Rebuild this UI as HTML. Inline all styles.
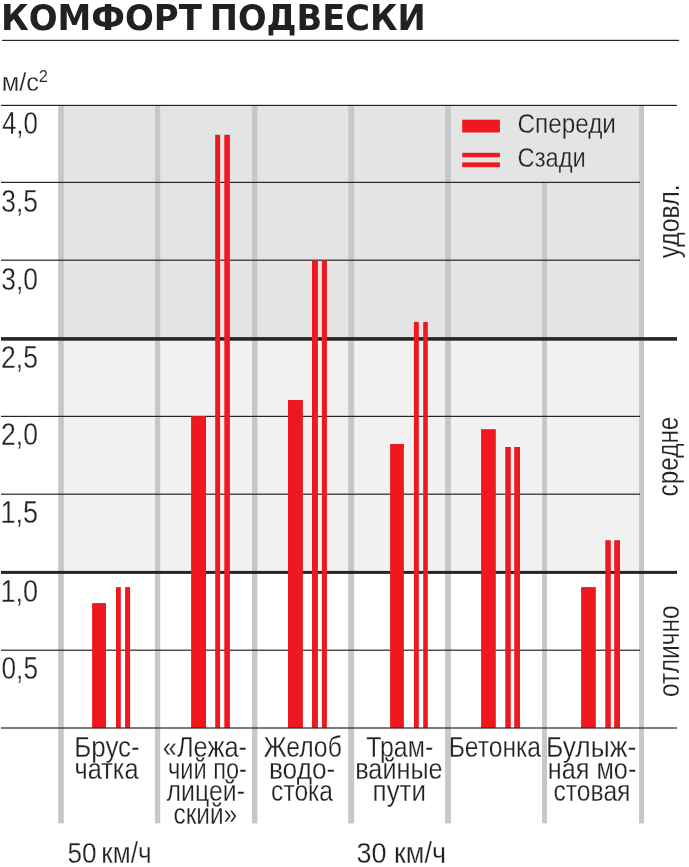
<!DOCTYPE html>
<html lang="ru"><head><meta charset="utf-8"><title>Комфорт подвески</title>
<style>html,body{margin:0;padding:0;background:#fff}svg{display:block}text{font-kerning:normal;white-space:pre}</style></head>
<body>
<svg width="689" height="867" viewBox="0 0 689 867">
<rect width="689" height="867" fill="#fff"/>
<rect x="58" y="105.4" width="586" height="233.5" fill="#e3e4e4"/>
<rect x="58" y="338.9" width="586" height="233.4" fill="#f1f1f1"/>
<rect x="58.2" y="105.4" width="5.60" height="718.00" fill="#c7c7c7"/>
<rect x="155" y="105.4" width="5.20" height="718.00" fill="#c7c7c7"/>
<rect x="252" y="105.4" width="5.40" height="718.00" fill="#c7c7c7"/>
<rect x="348.2" y="105.4" width="6.00" height="718.00" fill="#c7c7c7"/>
<rect x="445.1" y="105.4" width="5.80" height="718.00" fill="#c7c7c7"/>
<rect x="542.1" y="182.4" width="4.90" height="641.00" fill="#c7c7c7"/>
<rect x="639.1" y="105.4" width="4.90" height="718.00" fill="#c7c7c7"/>
<rect x="1" y="181.80" width="639" height="1.2" fill="#272625"/>
<rect x="1" y="259.60" width="639" height="1.2" fill="#272625"/>
<rect x="1" y="415.80" width="639" height="1.2" fill="#272625"/>
<rect x="1" y="493.60" width="639" height="1.2" fill="#272625"/>
<rect x="1" y="649.60" width="639" height="1.2" fill="#272625"/>
<rect x="1" y="337.1" width="676" height="3.6" fill="#272625"/>
<rect x="1" y="570.9" width="676" height="3.0" fill="#272625"/>
<rect x="92.1" y="603.1" width="13.90" height="124.90" fill="#f0181f"/>
<rect x="116.0" y="587.1" width="4.80" height="140.90" fill="#f0181f"/>
<rect x="125.1" y="587.1" width="5.00" height="140.90" fill="#f0181f"/>
<rect x="191.1" y="416.1" width="14.90" height="311.90" fill="#f0181f"/>
<rect x="215.2" y="134.8" width="4.90" height="593.20" fill="#f0181f"/>
<rect x="224.3" y="134.8" width="5.60" height="593.20" fill="#f0181f"/>
<rect x="288.0" y="400.0" width="14.90" height="328.00" fill="#f0181f"/>
<rect x="312.0" y="260.4" width="5.90" height="467.60" fill="#f0181f"/>
<rect x="321.9" y="260.4" width="5.00" height="467.60" fill="#f0181f"/>
<rect x="390.1" y="444.0" width="13.80" height="284.00" fill="#f0181f"/>
<rect x="413.9" y="322.0" width="4.90" height="406.00" fill="#f0181f"/>
<rect x="423.2" y="322.0" width="4.60" height="406.00" fill="#f0181f"/>
<rect x="481.1" y="429.2" width="14.70" height="298.80" fill="#f0181f"/>
<rect x="505.3" y="447.0" width="5.50" height="281.00" fill="#f0181f"/>
<rect x="514.2" y="447.0" width="5.80" height="281.00" fill="#f0181f"/>
<rect x="581.1" y="587.1" width="14.70" height="140.90" fill="#f0181f"/>
<rect x="605.3" y="540.2" width="5.50" height="187.80" fill="#f0181f"/>
<rect x="614.2" y="540.2" width="5.80" height="187.80" fill="#f0181f"/>
<rect x="2" y="39.8" width="677" height="1.2" fill="#272625"/>
<rect x="1" y="104.8" width="676" height="1.2" fill="#272625"/>
<rect x="1" y="727.4" width="676" height="1.2" fill="#272625"/>
<rect x="462.2" y="119.7" width="37.7" height="12.8" fill="#f0181f"/>
<rect x="462.2" y="152.8" width="37.7" height="4.5" fill="#f0181f"/>
<rect x="462.2" y="162.4" width="37.7" height="4.8" fill="#f0181f"/>
<text transform="translate(0.94,29.60) scale(0.9729,1)" font-family="'DejaVu Sans', sans-serif" font-size="34.9" font-weight="bold" fill="#222120">КОМФОРТ</text>
<text transform="translate(209.76,29.60) scale(0.9652,1)" font-family="'DejaVu Sans', sans-serif" font-size="34.9" font-weight="bold" fill="#222120">ПОДВЕСКИ</text>
<text transform="translate(1.78,91.00) scale(0.9611,1)" font-family="'Liberation Sans', sans-serif" font-size="26.5" fill="#222127" stroke="#ffffff" stroke-width="0.25" vector-effect="non-scaling-stroke">м/с</text>
<text transform="translate(38.81,81.90) scale(0.9931,1)" font-family="'Liberation Sans', sans-serif" font-size="16.6" fill="#222127" stroke="#ffffff" stroke-width="0.1" vector-effect="non-scaling-stroke">2</text>
<text transform="translate(1.96,133.80) scale(0.8497,1)" font-family="'Liberation Sans', sans-serif" font-size="30.5" fill="#222127" stroke="#ffffff" stroke-width="0.25" vector-effect="non-scaling-stroke">4,0</text>
<text transform="translate(1.30,212.20) scale(0.8658,1)" font-family="'Liberation Sans', sans-serif" font-size="30.5" fill="#222127" stroke="#ffffff" stroke-width="0.25" vector-effect="non-scaling-stroke">3,5</text>
<text transform="translate(1.30,290.00) scale(0.8658,1)" font-family="'Liberation Sans', sans-serif" font-size="30.5" fill="#222127" stroke="#ffffff" stroke-width="0.25" vector-effect="non-scaling-stroke">3,0</text>
<text transform="translate(1.08,368.20) scale(0.8713,1)" font-family="'Liberation Sans', sans-serif" font-size="30.5" fill="#222127" stroke="#ffffff" stroke-width="0.25" vector-effect="non-scaling-stroke">2,5</text>
<text transform="translate(1.08,445.10) scale(0.8713,1)" font-family="'Liberation Sans', sans-serif" font-size="30.5" fill="#222127" stroke="#ffffff" stroke-width="0.25" vector-effect="non-scaling-stroke">2,0</text>
<text transform="translate(0.38,523.10) scale(0.8883,1)" font-family="'Liberation Sans', sans-serif" font-size="30.5" fill="#222127" stroke="#ffffff" stroke-width="0.25" vector-effect="non-scaling-stroke">1,5</text>
<text transform="translate(0.38,602.00) scale(0.8883,1)" font-family="'Liberation Sans', sans-serif" font-size="30.5" fill="#222127" stroke="#ffffff" stroke-width="0.25" vector-effect="non-scaling-stroke">1,0</text>
<text transform="translate(1.52,679.20) scale(0.8604,1)" font-family="'Liberation Sans', sans-serif" font-size="30.5" fill="#222127" stroke="#ffffff" stroke-width="0.25" vector-effect="non-scaling-stroke">0,5</text>
<text transform="translate(517.52,132.60) scale(0.8519,1)" font-family="'Liberation Sans', sans-serif" font-size="28.5" fill="#222127" stroke="#e3e4e4" stroke-width="0.25" vector-effect="non-scaling-stroke">Спереди</text>
<text transform="translate(517.55,166.80) scale(0.8306,1)" font-family="'Liberation Sans', sans-serif" font-size="28.5" fill="#222127" stroke="#e3e4e4" stroke-width="0.25" vector-effect="non-scaling-stroke">Сзади</text>
<text transform="translate(74.25,756.60) scale(0.9018,1)" font-family="'Liberation Sans', sans-serif" font-size="28.8" fill="#222127" stroke="#ffffff" stroke-width="0.25" vector-effect="non-scaling-stroke">Брус-</text>
<text transform="translate(74.46,778.60) scale(0.8789,1)" font-family="'Liberation Sans', sans-serif" font-size="28.8" fill="#222127" stroke="#ffffff" stroke-width="0.25" vector-effect="non-scaling-stroke">чатка</text>
<text transform="translate(162.80,756.60) scale(0.8830,1)" font-family="'Liberation Sans', sans-serif" font-size="28.8" fill="#222127" stroke="#ffffff" stroke-width="0.25" vector-effect="non-scaling-stroke">«Лежа-</text>
<text transform="translate(167.97,778.60) scale(0.8193,1)" font-family="'Liberation Sans', sans-serif" font-size="28.8" fill="#222127" stroke="#ffffff" stroke-width="0.25" vector-effect="non-scaling-stroke">чий по-</text>
<text transform="translate(166.58,800.80) scale(0.8640,1)" font-family="'Liberation Sans', sans-serif" font-size="28.8" fill="#222127" stroke="#ffffff" stroke-width="0.25" vector-effect="non-scaling-stroke">лицей-</text>
<text transform="translate(173.43,823.60) scale(0.8483,1)" font-family="'Liberation Sans', sans-serif" font-size="28.8" fill="#222127" stroke="#ffffff" stroke-width="0.25" vector-effect="non-scaling-stroke">ский»</text>
<text transform="translate(263.66,756.60) scale(0.8597,1)" font-family="'Liberation Sans', sans-serif" font-size="28.8" fill="#222127" stroke="#ffffff" stroke-width="0.25" vector-effect="non-scaling-stroke">Желоб</text>
<text transform="translate(268.95,778.60) scale(0.9130,1)" font-family="'Liberation Sans', sans-serif" font-size="28.8" fill="#222127" stroke="#ffffff" stroke-width="0.25" vector-effect="non-scaling-stroke">водо-</text>
<text transform="translate(271.12,800.80) scale(0.8537,1)" font-family="'Liberation Sans', sans-serif" font-size="28.8" fill="#222127" stroke="#ffffff" stroke-width="0.25" vector-effect="non-scaling-stroke">стока</text>
<text transform="translate(366.15,756.60) scale(0.8664,1)" font-family="'Liberation Sans', sans-serif" font-size="28.8" fill="#222127" stroke="#ffffff" stroke-width="0.25" vector-effect="non-scaling-stroke">Трам-</text>
<text transform="translate(355.23,778.60) scale(0.8771,1)" font-family="'Liberation Sans', sans-serif" font-size="28.8" fill="#222127" stroke="#ffffff" stroke-width="0.25" vector-effect="non-scaling-stroke">вайные</text>
<text transform="translate(372.57,800.80) scale(0.9023,1)" font-family="'Liberation Sans', sans-serif" font-size="28.8" fill="#222127" stroke="#ffffff" stroke-width="0.25" vector-effect="non-scaling-stroke">пути</text>
<text transform="translate(448.66,756.60) scale(0.8561,1)" font-family="'Liberation Sans', sans-serif" font-size="28.8" fill="#222127" stroke="#ffffff" stroke-width="0.25" vector-effect="non-scaling-stroke">Бетонка</text>
<text transform="translate(545.90,756.60) scale(0.9196,1)" font-family="'Liberation Sans', sans-serif" font-size="28.8" fill="#222127" stroke="#ffffff" stroke-width="0.25" vector-effect="non-scaling-stroke">Булыж-</text>
<text transform="translate(547.83,778.60) scale(0.8771,1)" font-family="'Liberation Sans', sans-serif" font-size="28.8" fill="#222127" stroke="#ffffff" stroke-width="0.25" vector-effect="non-scaling-stroke">ная мо-</text>
<text transform="translate(553.51,800.80) scale(0.8568,1)" font-family="'Liberation Sans', sans-serif" font-size="28.8" fill="#222127" stroke="#ffffff" stroke-width="0.25" vector-effect="non-scaling-stroke">стовая</text>
<text transform="translate(67.48,862.60) scale(0.8783,1)" font-family="'Liberation Sans', sans-serif" font-size="29.8" fill="#222127" stroke="#ffffff" stroke-width="0.25" vector-effect="non-scaling-stroke" word-spacing="-3">50 км/ч</text>
<text transform="translate(356.44,862.60) scale(0.9074,1)" font-family="'Liberation Sans', sans-serif" font-size="29.8" fill="#222127" stroke="#ffffff" stroke-width="0.25" vector-effect="non-scaling-stroke">30 км/ч</text>
<text transform="translate(678.60,258.21) rotate(-90) scale(0.8553,1)" font-family="'Liberation Sans', sans-serif" font-size="29" fill="#222127" stroke="#ffffff" stroke-width="0.2" vector-effect="non-scaling-stroke">удовл.</text>
<text transform="translate(678.30,496.45) rotate(-90) scale(0.8389,1)" font-family="'Liberation Sans', sans-serif" font-size="29" fill="#222127" stroke="#ffffff" stroke-width="0.2" vector-effect="non-scaling-stroke">средне</text>
<text transform="translate(678.70,697.06) rotate(-90) scale(0.8462,1)" font-family="'Liberation Sans', sans-serif" font-size="29" fill="#222127" stroke="#ffffff" stroke-width="0.2" vector-effect="non-scaling-stroke">отлично</text>
</svg>
</body></html>
